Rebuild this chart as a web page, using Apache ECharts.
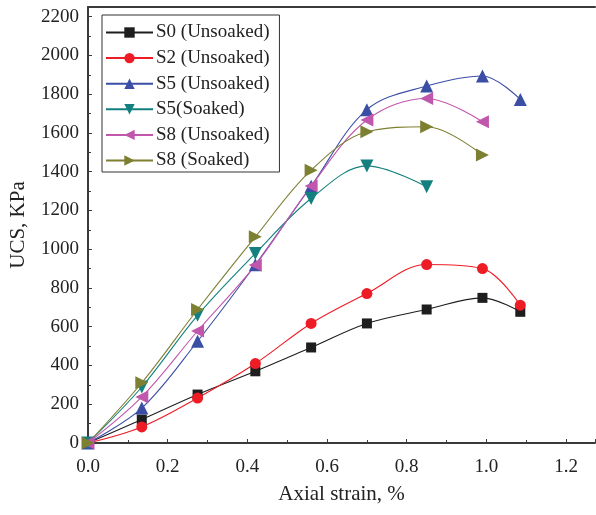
<!DOCTYPE html>
<html lang="en">
<head>
    <meta charset="UTF-8">
    <title>UCS vs axial strain</title>
    <script src="https://cdn.jsdelivr.net/npm/echarts@6/dist/echarts.min.js"></script>
    <style>
        html, body { margin: 0; padding: 0; background: #fff; }
    </style>
</head>
<body>
<div id="container" style="width:596px;height:515px;"></div>
<script>
    // axial strain, %
    var strain = [0, 0.135, 0.275, 0.42, 0.56, 0.70, 0.85, 0.99, 1.085];

    // UCS, KPa
    var s0Unsoaked = [0, 121, 250, 370, 493, 617, 689, 749, 677];
    var s2Unsoaked = [0, 83, 232, 410, 617, 771, 921, 900, 711];
    var s5Unsoaked = [0, 180, 525, 920, 1325, 1720, 1842, 1894, 1773];
    var s5Soaked = [0, 289, 659, 978, 1262, 1430, 1322];
    var s8Unsoaked = [0, 238, 578, 918, 1326, 1667, 1778, 1658];
    var s8Soaked = [0, 311, 689, 1064, 1408, 1606, 1632, 1486];

    var names = ['S0 (Unsoaked)', 'S2 (Unsoaked)', 'S5 (Unsoaked)', 'S5(Soaked)', 'S8 (Unsoaked)', 'S8 (Soaked)'];
    var colors = ['#1e1e1e', '#ee1c25', '#3a4ea6', '#13807f', '#c157ad', '#7d7f31'];
    var symbols = ['rect', 'circle', 'triangle', 'triangle', 'triangle', 'triangle'];
    var rotates = [0, 0, 0, 180, 90, -90];
    var sizes = [10, 11, 13, 13, 13, 13];
    var values = [s0Unsoaked, s2Unsoaked, s5Unsoaked, s5Soaked, s8Unsoaked, s8Soaked];

    var font = '"Liberation Serif", "DejaVu Serif", serif';

    var series = values.map(function (vals, i) {
        return {
            name: names[i],
            type: 'line',
            smooth: 0.35,
            symbol: symbols[i],
            symbolRotate: rotates[i],
            symbolSize: sizes[i],
            showAllSymbol: true,
            lineStyle: {color: colors[i], width: 1.1},
            itemStyle: {color: colors[i]},
            data: vals.map(function (v, k) { return [strain[k], v]; })
        };
    });

    var myChart = echarts.init(document.getElementById('container'));
    myChart.setOption({
        animation: false,
        backgroundColor: '#fff',
        grid: {left: 87, right: 1, top: 7, bottom: 72, containLabel: false},
        legend: {
            orient: 'vertical',
            left: 102,
            top: 15,
            itemWidth: 47,
            itemHeight: 13,
            itemGap: 6.6,
            padding: [8, 10, 2, 3],
            borderColor: '#333',
            borderWidth: 1,
            textStyle: {fontFamily: font, fontSize: 19, color: '#222', padding: [0, 0, 0, -2]},
            data: names
        },
        xAxis: [{
            type: 'value',
            min: 0,
            max: 1.2725,
            interval: 0.2,
            name: 'Axial strain, %',
            nameLocation: 'middle',
            nameGap: 41,
            nameTextStyle: {fontFamily: font, fontSize: 21, color: '#222'},
            axisLine: {lineStyle: {color: '#3a3a3a', width: 2}},
            axisTick: {inside: true, length: 4, lineStyle: {color: '#3a3a3a'}},
            minorTick: {show: true, splitNumber: 2, length: 3, lineStyle: {color: '#3a3a3a'}},
            axisLabel: {
                fontFamily: font, fontSize: 19, color: '#222', margin: 15,
                showMaxLabel: false,
                formatter: function (v) { return v.toFixed(1); }
            },
            splitLine: {show: false}
        }, {
            type: 'value',
            position: 'top',
            min: 0,
            max: 1.2725,
            axisLine: {show: true, onZero: false, lineStyle: {color: '#3a3a3a', width: 2}},
            axisTick: {show: false},
            axisLabel: {show: false},
            splitLine: {show: false}
        }],
        yAxis: {
            type: 'value',
            min: 0,
            max: 2250,
            interval: 200,
            name: 'UCS, KPa',
            nameLocation: 'middle',
            nameGap: 59,
            nameTextStyle: {fontFamily: font, fontSize: 21, color: '#222'},
            axisLine: {show: true, lineStyle: {color: '#3a3a3a', width: 2}},
            axisTick: {inside: true, length: 4, lineStyle: {color: '#3a3a3a'}},
            minorTick: {show: true, splitNumber: 2, length: 3, lineStyle: {color: '#3a3a3a'}},
            axisLabel: {
                fontFamily: font, fontSize: 19, color: '#222', margin: 9,
                showMaxLabel: false,
                formatter: function (v) { return String(v); }
            },
            splitLine: {show: false}
        },
        series: series
    });
</script>
</body>
</html>
